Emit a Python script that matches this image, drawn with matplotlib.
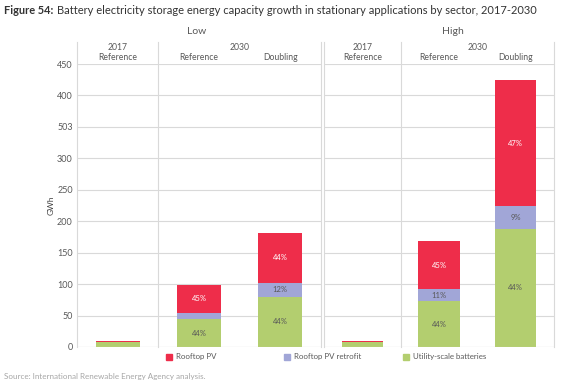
import matplotlib.pyplot as plt
import numpy as np

# data (GWh)
scenarios = ['Low', 'High']
years = ['2017', '2030', '2030']
cases = ['Reference', 'Reference', 'Doubling']
utility = {'Low': [8, 44, 80], 'High': [8, 73, 188]}
retrofit = {'Low': [0.5, 10, 22], 'High': [0.5, 19, 36]}
rooftop = {'Low': [1, 45, 80], 'High': [1, 76, 200]}
pct_utility = {'Low': ['', '44%', '44%'], 'High': ['', '44%', '44%']}
pct_retrofit = {'Low': ['', '', '12%'], 'High': ['', '11%', '9%']}
pct_rooftop = {'Low': ['', '45%', '44%'], 'High': ['', '45%', '47%']}
yticks = [0, 50, 100, 150, 200, 250, 300, 350, 400, 450]
ytick_labels = ['0', '50', '100', '150', '200', '250', '300', '503', '400', '450']

RED = '#EE2D4A'
BLUE = '#A1A6D7'
GREEN = '#B3CE6F'
GRID = '#D9D9D9'
TXT = '#595959'

plt.rcParams['font.family'] = ['Lato', 'DejaVu Sans']

W, H = 580, 383
fig = plt.figure(figsize=(W / 100, H / 100), dpi=100)

y_top, y_bot = 64, 347
hdr_top = 42


def fx(px):
    return px / W


def fy(py):
    return 1 - py / H


panels = {'Low': (77, 321), 'High': (324, 554)}
title_x = {'Low': 197, 'High': 453}
x = np.arange(3)
bw = 0.54

for name in scenarios:
    l, r = panels[name]
    ax = fig.add_axes([fx(l), fy(y_bot), fx(r - l), fy(y_top) - fy(y_bot)])
    ax.set_xlim(-0.5, 2.5)
    ax.set_ylim(0, 450)
    for sp in ax.spines.values():
        sp.set_visible(False)
    ax.set_yticks(yticks)
    ax.yaxis.grid(True, color=GRID, lw=0.8)
    ax.set_axisbelow(True)
    ax.set_xticks([])
    ax.tick_params(axis='y', length=0, labelsize=6.5, labelcolor=TXT, pad=3)
    if name == 'Low':
        ax.set_yticklabels(ytick_labels)
        ax.set_ylabel('GWh', fontsize=6, color='#404040', labelpad=2)
    else:
        ax.set_yticklabels([])

    u = np.array(utility[name])
    b = np.array(retrofit[name])
    rr = np.array(rooftop[name])
    ax.bar(x, u, bw, color=GREEN, zorder=2)
    ax.bar(x, b, bw, bottom=u, color=BLUE, zorder=2)
    ax.bar(x, rr, bw, bottom=u + b, color=RED, zorder=2)
    for i in range(3):
        if pct_utility[name][i]:
            ax.text(x[i], u[i] / 2, pct_utility[name][i], ha='center', va='center',
                    fontsize=5.5, color=TXT)
        if pct_retrofit[name][i]:
            ax.text(x[i], u[i] + b[i] / 2, pct_retrofit[name][i], ha='center',
                    va='center', fontsize=5.5, color=TXT)
        if pct_rooftop[name][i]:
            ax.text(x[i], u[i] + b[i] + rr[i] / 2, pct_rooftop[name][i],
                    ha='center', va='center', fontsize=5.5, color='white')

    # frame lines extending into header area
    top_ext = (y_bot - hdr_top) / (y_bot - y_top)
    for xv in [-0.5, 0.5, 2.5]:
        ax.plot([xv, xv], [0, top_ext], transform=ax.get_xaxis_transform(),
                color=GRID, lw=0.8, clip_on=False, zorder=1)
    ax.axhline(0, color=GRID, lw=0.8)

    # category headers
    yy_year = (y_bot - 47) / (y_bot - y_top)
    yy_case = (y_bot - 57) / (y_bot - y_top)
    tr = ax.get_xaxis_transform()
    ax.text(0, yy_year, years[0], transform=tr, ha='center', va='center',
            fontsize=6.2, color=TXT)
    ax.text(1.5, yy_year, years[1], transform=tr, ha='center', va='center',
            fontsize=6.2, color=TXT)
    for i in range(3):
        ax.text(x[i], yy_case, cases[i], transform=tr, ha='center',
                va='center', fontsize=6.2, color=TXT)
    fig.text(fx(title_x[name]), fy(32), name, ha='center', va='center',
             fontsize=7.5, color=TXT)

# legend
leg = [(166, RED, 'Rooftop PV'), (284, BLUE, 'Rooftop PV retrofit'),
       (403, GREEN, 'Utility-scale batteries')]
for px, c, lab in leg:
    fig.patches.append(plt.Rectangle((fx(px), fy(360)), fx(6), fy(354) - fy(360),
                                     transform=fig.transFigure, color=c))
    fig.text(fx(px + 10), fy(357), lab, ha='left', va='center', fontsize=5.7,
             color=TXT)

fig.text(fx(4), fy(11), 'Figure 54:', ha='left', va='center', fontsize=7.9,
         color='#333333', fontweight='bold')
fig.text(fx(57), fy(11),
         'Battery electricity storage energy capacity growth in stationary applications by sector, 2017-2030',
         ha='left', va='center', fontsize=8, color='#333333')
fig.text(fx(4), fy(377), 'Source: International Renewable Energy Agency analysis.',
         ha='left', va='center', fontsize=5.8, color='#A6A6A6')

fig.savefig('out.png', dpi=100)
